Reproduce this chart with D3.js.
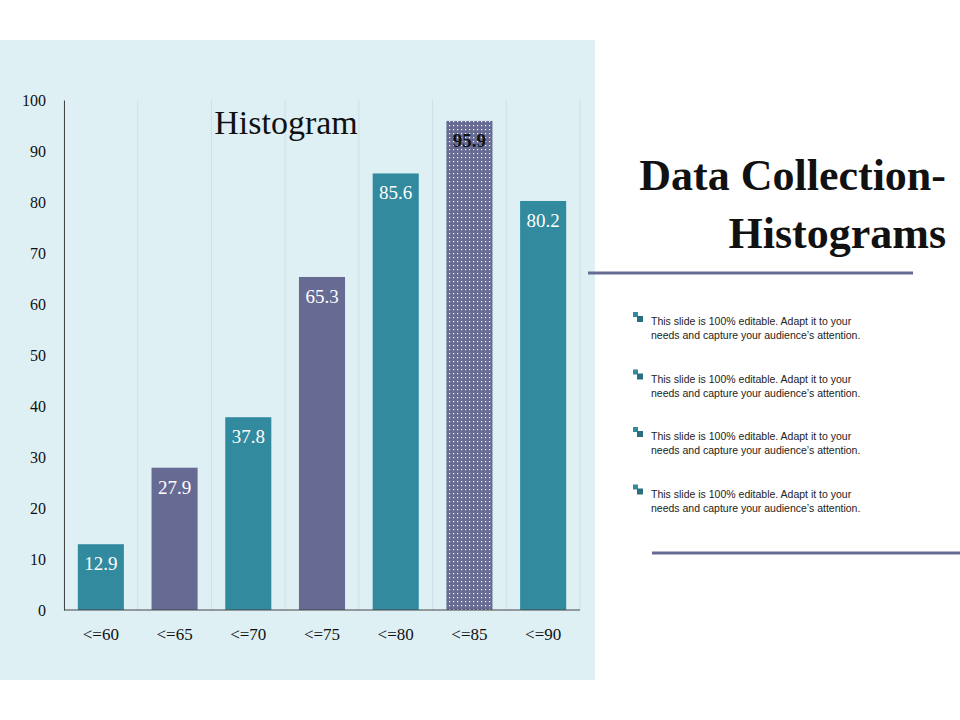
<!DOCTYPE html>
<html><head><meta charset="utf-8">
<script src="https://cdn.jsdelivr.net/npm/d3@7"></script>
<style>body{margin:0;background:#fff}svg{display:block}</style>
</head><body>
<svg id="chart" width="960" height="720"></svg>
<script>
// chart data
const categories = ['<=60', '<=65', '<=70', '<=75', '<=80', '<=85', '<=90'];
const values = [12.9, 27.9, 37.8, 65.3, 85.6, 95.9, 80.2];
const barKinds = ['teal', 'purple', 'teal', 'purple', 'teal', 'dots', 'teal'];
const yTicks = [0, 10, 20, 30, 40, 50, 60, 70, 80, 90, 100];
const bullets = [
  ['This slide is 100% editable. Adapt it to your', 'needs and capture your audience\u2019s attention.'],
  ['This slide is 100% editable. Adapt it to your', 'needs and capture your audience\u2019s attention.'],
  ['This slide is 100% editable. Adapt it to your', 'needs and capture your audience\u2019s attention.'],
  ['This slide is 100% editable. Adapt it to your', 'needs and capture your audience\u2019s attention.']
];

const TEAL = '#318a9e', PURPLE = '#676a93';
const serif = '"Liberation Serif", "DejaVu Serif", serif';
const sans = '"Liberation Sans", Arial, sans-serif';

const svg = d3.select('#chart');

const defs = svg.append('defs');
const pat = defs.append('pattern').attr('id', 'dots')
  .attr('width', 4).attr('height', 4).attr('patternUnits', 'userSpaceOnUse');
pat.append('rect').attr('width', 4).attr('height', 4).attr('fill', PURPLE);
pat.append('rect').attr('x', 1).attr('y', 1).attr('width', 1.2).attr('height', 1.2).attr('fill', '#fff');

svg.append('rect').attr('x', 0).attr('y', 40).attr('width', 595).attr('height', 640).attr('fill', '#dff0f5');

const x = d3.scaleBand().domain(categories).range([64, 580]).paddingInner(0.375).paddingOuter(0.1875);
const y = d3.scaleLinear().domain([0, 100]).range([610, 100]);

// vertical separators at band boundaries
const step = x.step();
const bounds = d3.range(categories.length + 1).map(i => 64 + i * (516 / categories.length));
svg.append('g').selectAll('line').data(bounds).join('line')
  .attr('x1', d => d).attr('x2', d => d).attr('y1', 100).attr('y2', 610)
  .attr('stroke', '#cfdfe3').attr('stroke-width', 1);

svg.append('g').selectAll('rect').data(values).join('rect')
  .attr('x', (d, i) => x(categories[i]))
  .attr('width', x.bandwidth())
  .attr('y', d => y(d))
  .attr('height', d => y(0) - y(d))
  .attr('fill', (d, i) => barKinds[i] === 'teal' ? TEAL : barKinds[i] === 'purple' ? PURPLE : 'url(#dots)');

svg.append('g').selectAll('text').data(values).join('text')
  .attr('x', (d, i) => x(categories[i]) + x.bandwidth() / 2)
  .attr('y', d => y(d) + 26)
  .attr('text-anchor', 'middle')
  .attr('font-family', serif).attr('font-size', 19)
  .attr('font-weight', (d, i) => barKinds[i] === 'dots' ? 'bold' : 'normal')
  .attr('fill', (d, i) => barKinds[i] === 'dots' ? '#111' : '#fff')
  .text(d => d.toFixed(1));

// axes
const yAxis = svg.append('g').attr('transform', 'translate(64,0)')
  .call(d3.axisLeft(y).tickValues(yTicks).tickSize(0).tickPadding(18));
yAxis.select('.domain').attr('stroke', '#444');
yAxis.selectAll('text').attr('font-family', serif).attr('font-size', 16).attr('fill', '#111');

const xAxis = svg.append('g').attr('transform', 'translate(0,610)')
  .call(d3.axisBottom(x).tickSize(0).tickPadding(18).tickSizeOuter(0));
xAxis.select('.domain').attr('stroke', '#444').attr('d', 'M64,0H580');
xAxis.selectAll('text').attr('font-family', serif).attr('font-size', 17).attr('fill', '#111');

svg.append('text').attr('x', 286).attr('y', 134).attr('text-anchor', 'middle')
  .attr('font-family', serif).attr('font-size', 34).attr('fill', '#111').text('Histogram');

// right side
const title = svg.append('text').attr('text-anchor', 'end')
  .attr('font-family', serif).attr('font-size', 44).attr('font-weight', 'bold').attr('fill', '#111');
title.append('tspan').attr('x', 946).attr('y', 190).text('Data Collection-');
title.append('tspan').attr('x', 946).attr('y', 248).text('Histograms');

svg.append('line').attr('x1', 588).attr('x2', 913).attr('y1', 273).attr('y2', 273)
  .attr('stroke', PURPLE).attr('stroke-width', 3);
svg.append('line').attr('x1', 652).attr('x2', 960).attr('y1', 553).attr('y2', 553)
  .attr('stroke', PURPLE).attr('stroke-width', 3);

const items = svg.append('g').selectAll('g').data(bullets).join('g')
  .attr('transform', (d, i) => `translate(633,${312 + i * 57.5})`);
items.append('rect').attr('x', 0).attr('y', 0).attr('width', 5).attr('height', 5).attr('fill', TEAL);
items.append('rect').attr('x', 4).attr('y', 4).attr('width', 6).attr('height', 6).attr('fill', '#2a6f80');
items.append('text').attr('x', 18).attr('y', 13)
  .attr('font-family', sans).attr('font-size', 10.5).attr('fill', '#222')
  .selectAll('tspan').data(d => d).join('tspan')
  .attr('x', 18).attr('dy', (d, i) => i ? 14 : 0).text(d => d);
</script>
</body></html>
